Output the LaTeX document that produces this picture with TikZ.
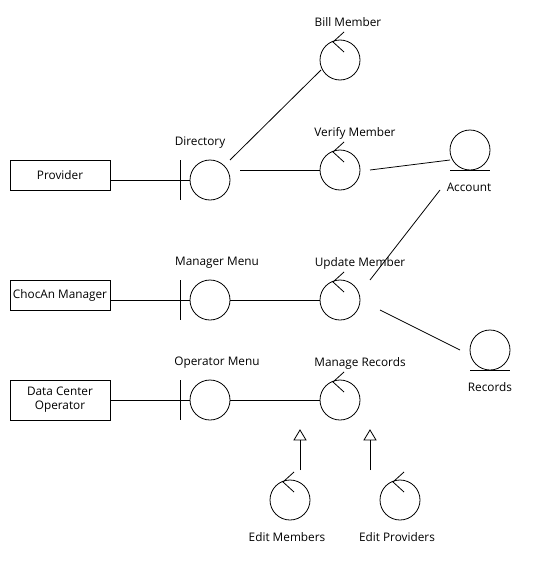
\documentclass[tikz,border=0pt]{standalone}
\usepackage{fontspec}
\setmainfont{Open Sans}
\usetikzlibrary{calc}
\begin{document}
\begin{tikzpicture}[x=1pt,y=-1pt,
  every node/.style={font=\fontsize{11.8}{14}\selectfont},
  actorbox/.style={draw,minimum width=100pt,minimum height=30pt,inner sep=0pt,align=center},
  obj/.style={draw,circle,minimum size=40pt,inner sep=0pt},
  lbl/.style={inner sep=0pt}
]
\useasboundingbox (0,0) rectangle (540,570);
\begin{scope}[line width=0.8pt]
% actors
\node[actorbox] (prov) at (60,175) {Provider};
\node[actorbox] (mgr) at (60,295) {ChocAn Manager};
\node[actorbox,minimum height=40pt] (dco) at (60,400) {Data Center\\Operator};

% boundaries
\node[obj] (dir) at (210,180) {};
\node[obj] (mmenu) at (210,300) {};
\node[obj] (omenu) at (210,400) {};
\foreach \b in {dir,mmenu,omenu}{
  \draw ($(\b)+(-30,-20)$) -- ($(\b)+(-30,20)$);
}
\node[lbl] at (200,143) {Directory};
\node[lbl] at (217,263) {Manager Menu};
\node[lbl] at (217,363) {Operator Menu};

% controls
\node[obj] (bill) at (340,60) {};
\node[obj] (ver) at (340,170) {};
\node[obj] (upd) at (340,300) {};
\node[obj] (mrec) at (340,400) {};
\node[obj] (emem) at (290,500) {};
\node[obj] (eprov) at (400,500) {};
\foreach \c in {bill,ver,upd,mrec,emem,eprov}{
  \draw ($(\c)+(4,-28)$) -- ($(\c)+(-7,-18)$) -- ($(\c)+(4,-8)$);
}
\node[lbl] at (348,22) {Bill Member};
\node[lbl] at (355,133) {Verify Member};
\node[lbl] at (360,263) {Update Member};
\node[lbl] at (360,363) {Manage Records};
\node[lbl] at (287,537) {Edit Members};
\node[lbl] at (397,537) {Edit Providers};

% entities
\node[obj] (acc) at (470,150) {};
\node[obj] (rec) at (490,350) {};
\draw ($(acc)+(-20,20)$) -- ($(acc)+(20,20)$);
\draw ($(rec)+(-20,20)$) -- ($(rec)+(20,20)$);
\node[lbl] at (469,187) {Account};
\node[lbl] at (490,387) {Records};

% connectors
\draw (prov.east |- dir.west) -- (dir.west);
\draw (mgr.east |- mmenu.west) -- (mmenu.west);
\draw (dco.east |- omenu.west) -- (omenu.west);
\draw (mmenu.east) -- (upd.west);
\draw (omenu.east) -- (mrec.west);
\draw ($(dir)+(20,-20)$) -- ($(bill)+(-19,10)$);
\draw ($(dir)+(30,-10)$) -- (ver.west);
\draw ($(ver)+(30,0)$) -- ($(acc)+(-20,10)$);
\draw ($(upd)+(30,-20)$) -- ($(acc)+(-30,40)$);
\draw ($(upd)+(40,10)$) -- ($(rec)+(-30,0)$);
% generalisation arrows (open triangles)
\coordinate (t1) at ($(mrec)+(-40,30)$);
\coordinate (t2) at ($(mrec)+(30,30)$);
\draw ($(emem)+(10,-30)$) -- ($(t1)+(0,10)$);
\draw ($(eprov)+(-30,-30)$) -- ($(t2)+(0,10)$);
\draw[line join=miter] (t1) -- ($(t1)+(-6,10)$) -- ($(t1)+(6,10)$) -- cycle;
\draw[line join=miter] (t2) -- ($(t2)+(-6,10)$) -- ($(t2)+(6,10)$) -- cycle;
\end{scope}
\end{tikzpicture}
\end{document}
